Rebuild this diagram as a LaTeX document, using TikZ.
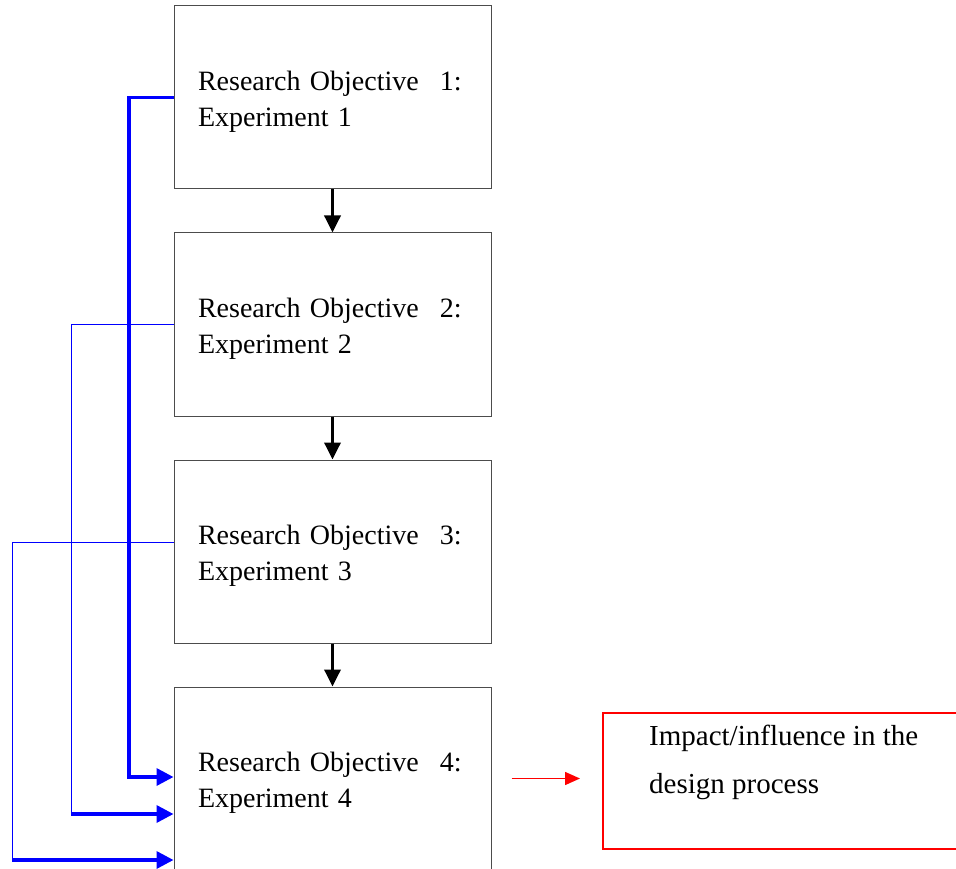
\documentclass[tikz,border=0pt]{standalone}
\usepackage{fontspec}
\setmainfont{Liberation Serif}
\usetikzlibrary{arrows.meta}

\begin{document}
\begin{tikzpicture}[x=1pt, y=-1pt,
  objbox/.style={draw=black!70, line width=1pt, minimum width=317pt, minimum height=183pt,
    inner xsep=24pt, text width=269pt, text height=27pt, align=left, font=\fontsize{28}{36}\selectfont},
  down/.style={line width=3.5pt, -{Triangle[length=17pt,width=16pt]}},
  feed/.style={blue, line width=3.5pt, -{Triangle[length=17pt,width=17pt]}},
  link/.style={blue, line width=1pt}]
  \useasboundingbox (0,0) rectangle (956,869);
  \node[objbox] (b1) at (332.5,97.5) {Research Objective\hspace{21pt}1:\\Experiment 1};
  \node[objbox] (b2) at (332.5,324.5) {Research Objective\hspace{21pt}2:\\Experiment 2};
  \node[objbox] (b3) at (332.5,551.5) {Research Objective\hspace{21pt}3:\\Experiment 3};
  \node[objbox] (b4) at (332.5,778.5) {Research Objective\hspace{21pt}4:\\Experiment 4};
  \node[draw=red, line width=1.5pt, minimum width=380pt, minimum height=136pt, anchor=north west] (impact) at (602,712) {};
  \node[anchor=north west, inner sep=0pt, align=left, font=\fontsize{29}{48}\selectfont] (impacttext) at (649,725) {Impact/influence in the\\design process};
  \draw[down] (b1.south) -- (b2.north);
  \draw[down] (b2.south) -- (b3.north);
  \draw[down] (b3.south) -- (b4.north);
  \draw[red, line width=1.5pt, -{Triangle[length=15pt,width=13pt]}] ([xshift=20pt]b4.east) -- ([xshift=-22pt]b4.east -| impact.west);
  \coordinate (k1) at (129,777);
  \coordinate (k2) at (71,814);
  \coordinate (k3) at (12,860);
  \draw[link] (b2.west) -| (k2);
  \draw[link] ([yshift=9.5pt]b3.west) -| (k3);
  \draw[feed] (b1.west) -| (k1) -- (k1 -| b4.west);
  \draw[feed] (k2) -- (k2 -| b4.west);
  \draw[feed] (k3) -- (k3 -| b4.west);
\end{tikzpicture}
\end{document}
